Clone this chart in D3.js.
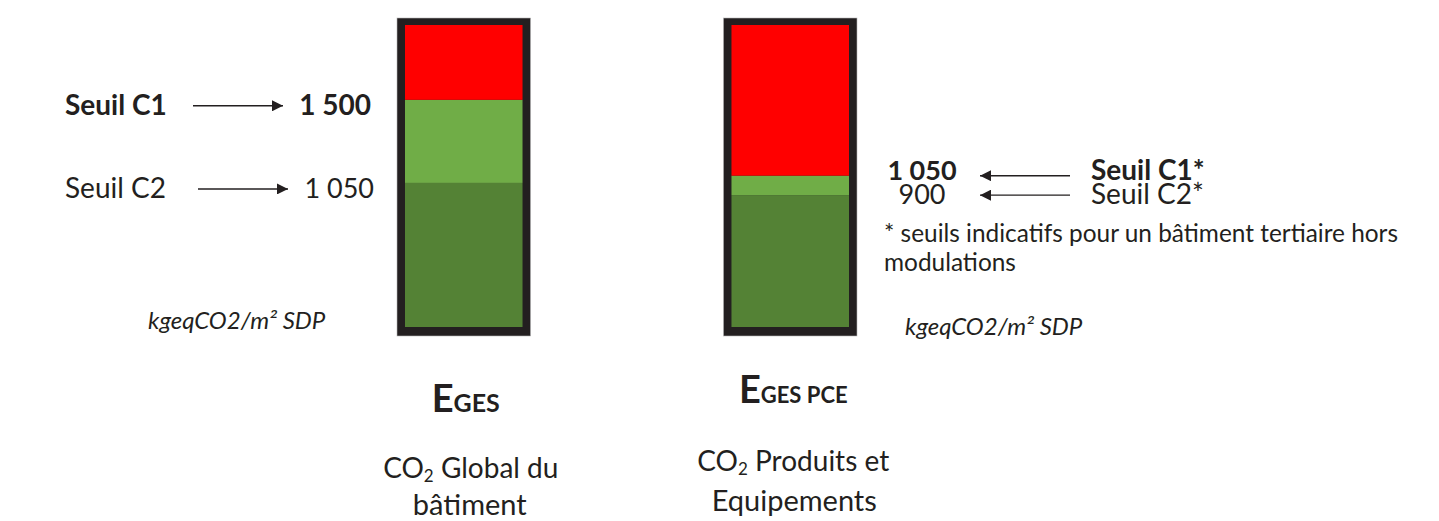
<!DOCTYPE html>
<html>
<head>
<meta charset="utf-8">
<script src="https://cdn.jsdelivr.net/npm/d3@7"></script>
<style>
  body { margin: 0; background: #fff; }
  svg { display: block; font-family: Lato, "Open Sans", sans-serif; }
</style>
</head>
<body>
<div id="chart"></div>
<script>
var width = 1439;
var height = 521;

// indicateurs (une barre par indicateur)
var indicators = ["EGES", "EGES PCE"];
var titleSub = ["GES", "GES PCE"];
var subtitles = [["Global du", "bâtiment"], ["Produits et", "Equipements"]];

// seuils (kgeqCO2/m² SDP)
var seuilC1 = [1500, 1050];
var seuilC2 = [1050, 900];
var seuilLabels = [["Seuil C1", "Seuil C2"], ["Seuil C1*", "Seuil C2*"]];

// étendue visible de chaque barre (schématique)
var barBottom = [270, -115];
var barTop = [1905, 2210];

var unitLabel = "kgeqCO2/m² SDP";
var footnote = ["* seuils indicatifs pour un bâtiment tertiaire hors", "modulations"];

var red = "#ff0000";
var lightGreen = "#70ad47";
var darkGreen = "#548235";
var frame = "#231f20";
var textColor = "#231f20";

var fr = d3.formatLocale({decimal: ",", thousands: "\u00a0", grouping: [3], currency: ["", " €"]});
var fmt = fr.format(",d");

var svg = d3.select("#chart")
            .append("svg")
            .attr("width", width)
            .attr("height", height);

svg.append("defs").append("marker")
    .attr("id", "head")
    .attr("viewBox", "0 0 10 10")
    .attr("refX", 10)
    .attr("refY", 5)
    .attr("markerUnits", "userSpaceOnUse")
    .attr("markerWidth", 17)
    .attr("markerHeight", 11)
    .attr("orient", "auto")
  .append("path")
    .attr("d", "M0,0 L10,5 L0,10 Z")
    .attr("fill", textColor);

var x = d3.scaleBand()
          .domain(indicators)
          .range([397, 857])
          .paddingInner(0.591)
          .paddingOuter(0);

var frameTop = 18, frameBottom = 336, inset = 8;

indicators.forEach(function(name, i) {
    var x0 = x(name);
    var bw = x.bandwidth();
    var cx = x0 + bw / 2;
    var y = d3.scaleLinear()
              .domain([barBottom[i], barTop[i]])
              .range([frameBottom - 9, frameTop + 7]);

    // cadre
    svg.append("rect")
        .attr("x", x0)
        .attr("y", frameTop)
        .attr("width", bw)
        .attr("height", frameBottom - frameTop)
        .attr("fill", frame)
        .attr("stroke", "#b5b5b5")
        .attr("stroke-width", 0.6);

    var segments = [
        {lo: barBottom[i], hi: seuilC2[i], color: darkGreen},
        {lo: seuilC2[i], hi: seuilC1[i], color: lightGreen},
        {lo: seuilC1[i], hi: barTop[i], color: red}
    ];
    svg.selectAll(null)
        .data(segments)
        .enter()
        .append("rect")
        .attr("x", x0 + inset)
        .attr("width", bw - 2 * inset)
        .attr("y", function(d) { return y(d.hi); })
        .attr("height", function(d) { return y(d.lo) - y(d.hi); })
        .attr("fill", function(d) { return d.color; });

    // titre E GES
    var t = svg.append("text")
        .attr("x", cx + (i == 0 ? 2 : 3))
        .attr("y", i == 0 ? 412 : 403)
        .attr("text-anchor", "middle")
        .attr("fill", textColor)
        .style("font-weight", "bold");
    t.append("tspan").style("font-size", "38px").text("E");
    t.append("tspan").style("font-size", i == 0 ? "25px" : "22px").text(titleSub[i]);

    // sous-titre
    var s1 = svg.append("text")
        .attr("x", cx + (i == 0 ? 7 : 3))
        .attr("y", i == 0 ? 478 : 471)
        .attr("text-anchor", "middle")
        .attr("fill", textColor)
        .style("font-size", "28px");
    s1.append("tspan").text("CO");
    s1.append("tspan").attr("dy", 4).style("font-size", "17px").text("2");
    s1.append("tspan").attr("dy", -4).text(" " + subtitles[i][0]);

    svg.append("text")
        .attr("x", cx + (i == 0 ? 6 : 4))
        .attr("y", i == 0 ? 515 : 511)
        .attr("text-anchor", "middle")
        .attr("fill", textColor)
        .style("font-size", "29px")
        .text(subtitles[i][1]);
});

// annotations barre gauche
var yL = d3.scaleLinear().domain([barBottom[0], barTop[0]]).range([frameBottom - 9, frameTop + 7]);
var leftRows = [
    {label: seuilLabels[0][0], v: seuilC1[0], bold: true, x1: 193, x2: 283},
    {label: seuilLabels[0][1], v: seuilC2[0], bold: false, x1: 198, x2: 288}
];
leftRows.forEach(function(r, k) {
    var yy = yL(r.v);
    svg.append("text")
        .attr("x", 65)
        .attr("y", yy + 15)
        .attr("fill", textColor)
        .style("font-size", "28px")
        .style("font-weight", r.bold ? "bold" : "normal")
        .text(r.label);
    svg.append("line")
        .attr("x1", r.x1).attr("x2", r.x2)
        .attr("y1", yy + 6).attr("y2", yy + 6)
        .attr("stroke", textColor)
        .attr("stroke-width", 1.4)
        .attr("marker-end", "url(#head)");
    svg.append("text")
        .attr("x", r.bold ? 371 : 374)
        .attr("y", yy + 15)
        .attr("text-anchor", "end")
        .attr("fill", textColor)
        .style("font-size", r.bold ? "28px" : "27px")
        .style("font-weight", r.bold ? "bold" : "normal")
        .text(fmt(r.v));
});

// annotations barre droite
var yR = d3.scaleLinear().domain([barBottom[1], barTop[1]]).range([frameBottom - 9, frameTop + 7]);
var rightRows = [
    {label: seuilLabels[1][0], v: seuilC1[1], bold: true, dy: 4},
    {label: seuilLabels[1][1], v: seuilC2[1], bold: false, dy: 9}
];
rightRows.forEach(function(r) {
    var yy = yR(r.v);
    svg.append("text")
        .attr("x", 922)
        .attr("y", yy + r.dy)
        .attr("text-anchor", "middle")
        .attr("fill", textColor)
        .style("font-size", "27px")
        .style("font-weight", r.bold ? "bold" : "normal")
        .text(fmt(r.v));
    svg.append("line")
        .attr("x1", 1070).attr("x2", 980)
        .attr("y1", yy).attr("y2", yy)
        .attr("stroke", textColor)
        .attr("stroke-width", 1.4)
        .attr("marker-end", "url(#head)");
    svg.append("text")
        .attr("x", 1091)
        .attr("y", yy + r.dy)
        .attr("fill", textColor)
        .style("font-size", "28px")
        .style("font-weight", r.bold ? "bold" : "normal")
        .text(r.label);
});

svg.selectAll(null)
    .data(footnote)
    .enter()
    .append("text")
    .attr("x", 884)
    .attr("y", function(d, k) { return 242 + k * 29; })
    .attr("fill", textColor)
    .style("font-size", "24.4px")
    .text(function(d) { return d; });

// unités
[{x: 148, y: 329}, {x: 905, y: 335}].forEach(function(p) {
    svg.append("text")
        .attr("x", p.x)
        .attr("y", p.y)
        .attr("fill", textColor)
        .style("font-size", "24px")
        .style("font-style", "italic")
        .text(unitLabel);
});
</script>
</body>
</html>
